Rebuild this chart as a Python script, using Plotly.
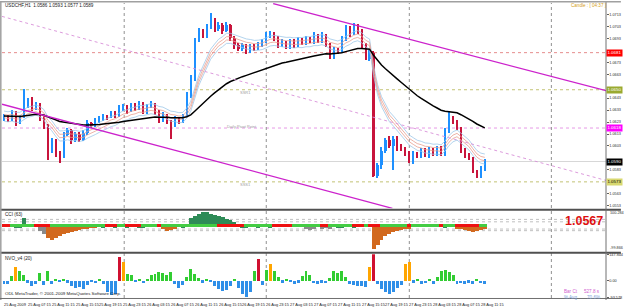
import plotly.graph_objects as go
import numpy as np

# ---------------- data ----------------
closes = [1.0628,1.0625,1.0630,1.0623,1.0627,
          1.0637,1.0641,1.0634,1.0638,1.0626,
          1.0620,1.0599,1.0607,1.0597,1.0595,
          1.0612,1.0616,1.0608,1.0613,1.0608,
          1.0614,1.0622,1.0620,1.0624,1.0626,
          1.0628,1.0627,1.0630,1.0628,1.0634,
          1.0636,1.0632,1.0637,1.0634,1.0638,
          1.0632,1.0636,1.0638,1.0631,1.0625,
          1.0629,1.0623,1.0621,1.0626,1.0623,
          1.0628,1.0645,1.0659,1.0691,1.0699,
          1.0695,1.0703,1.0708,1.0701,1.0704,
          1.0699,1.0704,1.0693,1.0687,1.0684,
          1.0687,1.0683,1.0686,1.0684,1.0688,
          1.0690,1.0695,1.0697,1.0693,1.0688,
          1.0690,1.0686,1.0690,1.0687,1.0691,
          1.0689,1.0693,1.0690,1.0695,1.0691,
          1.0695,1.0687,1.0678,1.0684,1.0683,
          1.0693,1.0701,1.0698,1.0703,1.0699,
          1.0687,1.0676,1.0681,1.0578,1.0587,
          1.0599,1.0608,1.0603,1.0609,1.0603,
          1.0601,1.0597,1.0591,1.0597,1.0595,
          1.0599,1.0596,1.0600,1.0597,1.0601,
          1.0597,1.0616,1.0626,1.0623,1.0618,
          1.0599,1.0595,1.0593,1.0581,1.0578,
          1.0584,1.0589]
first_open = 1.0626
wick_up_pips = [2,1,3,2,2, 14,2,3,2,1, 2,1,3,2,2, 3,2,1,2,2,
                2,3,1,2,2, 2,1,2,2,3, 2,1,2,2,3, 2,2,3,1,2,
                2,1,2,2,1, 2,3,3,2,3, 2,2,6,2,3, 2,3,1,2,2,
                2,1,2,2,2, 2,3,2,1,2, 2,1,2,2,3, 2,2,1,3,2,
                3,2,2,2,1, 2,3,2,3,2, 2,2,2,1,2, 3,2,3,2,2,
                2,1,2,2,1, 2,2,2,1,2, 2,2,6,2,2, 1,2,2,1,2,
                2,3]
wick_dn_pips = [2,2,1,3,2, 1,2,2,1,2, 3,8,2,3,6, 2,1,3,2,2,
                1,2,2,1,2, 2,2,1,2,1, 2,2,1,2,1, 2,2,1,2,3,
                2,2,12,2,2, 1,1,2,2,1, 2,2,2,3,2, 2,1,2,3,2,
                2,3,2,2,1, 2,1,2,2,3, 2,2,2,2,1, 2,2,1,2,2,
                2,1,2,2,3, 2,2,4,2,2, 2,1,2,1,2, 3,2,2,20,4,
                2,2,2,3,2, 2,2,3,2,2, 2,2,2,2,2, 2,2,2,1,2,
                2,2]

cci_vals = [0,0,0,4,7, 57,22,19,15,-25,
            -43,-70,-81,-65,-58, -45,-35,-28,-22,-15,
            -12,-7,-4,-3,0, 2,0,0,3,0,
            0,2,0,0,3, 2,0,0,0,0,
            -7,-22,-17,-7,0, 9,20,57,72,80,
            94,91,83,75,68, 60,52,42,30,20,
            9,3,0,0,2, 0,0,3,0,0,
            0,0,0,0,0, 0,-12,-17,-7,0,
            -9,-4,-6,0,3, 4,0,0,2,0,
            0,0,0,-136,-110, -80,-58,-44,-32,-23,
            -17,-12,-7,0,0, 0,0,0,0,0,
            0,2,0,0,-6, -14,-20,-26,-31,-25,
            -15,-7]
cci_gray = [9,10,76,77,78,80,81,82]
cci_state = list("RRGGGGGGRRRRGGGGGGGGGGGGGGRRRGGRRRRGGGGRGGGGGGGGGGGGGGRRRRRRRGGGGGGGRRRRR"
                 "GGGGGGGRRGGGGGGRRRGRRRGGGGGGGRGGGGGGGRGGGRRRRRRGG")
cci_levels = [50, 35, -10, -20]

nvo_vals = [-15,-20,25,77,55, 35,-10,-28,-20,45,
            -25,55,-15,10,-8, 12,-10,-30,-40,-35,
            -44,-25,-8,-12,8, -15,-60,-80,-70,132,
            105,38,30,-8,10, -12,8,30,40,50,
            45,35,50,-20,-40, -25,20,65,40,15,
            -10,8,-5,-30,-45, -55,-50,-30,8,-40,
            -70,-88,-60,55,120, -25,60,93,55,20,
            -10,12,-8,-15,-10, 25,55,30,-12,-15,
            -10,-12,15,55,45, 55,20,-15,-25,-30,
            -28,-35,75,148,-20, -45,-60,-70,-60,-40,
            -25,93,105,-10,12, -15,-12,10,-15,20,
            55,60,50,30,-15, -12,-18,-10,-15,12,
            -12,-15]

date_labels = ["25 Aug 2009", "25 Aug 07:15", "25 Aug 11:15", "25 Aug 15:15", "25 Aug 19:15",
               "25 Aug 23:15", "26 Aug 03:15", "26 Aug 07:15", "26 Aug 11:15", "26 Aug 15:15",
               "26 Aug 19:15", "26 Aug 23:15", "27 Aug 03:15", "27 Aug 07:15", "27 Aug 11:15",
               "27 Aug 15:15", "27 Aug 19:15", "27 Aug 23:15", "28 Aug 03:15", "28 Aug 07:15",
               "28 Aug 11:15"]
date_label_bars = [k * 6 for k in range(21)]

price_ticks_all = [round(1.0713 - 0.0010 * k, 4) for k in range(17)]
level_prices = [1.0681, 1.0650, 1.0618, 1.0590, 1.0573]
level_colors = ["#E07070", "#B4B450", "#E080E0", "#CCCCCC", "#B4B450"]
level_dash = ["dot", "dot", "dot", "solid", "dot"]
level_box = ["#FF0000", "#9AAA30", "#FF00FF", "#000000", "#D8D870"]
level_box_font = ["white", "white", "white", "white", "black"]

upper_chan = ([67.75, 151.5], [1.0722, 1.06492])
mid_chan = ([-0.5, 151.5], [1.07113, 1.05742])
lower_chan = ([-0.5, 97.75], [1.06379, 1.05509])
vgrid_bars = [30.25, 66, 102, 137.75]

n = len(closes)
assert len(wick_up_pips) == n and len(wick_dn_pips) == n
assert len(cci_vals) == n and len(nvo_vals) == n and len(cci_state) == n

idx = np.arange(n)
c = np.array(closes)
o = np.array([first_open] + closes[:-1])
hi = np.maximum(o, c) + np.array(wick_up_pips) * 0.0001
lo = np.minimum(o, c) - np.array(wick_dn_pips) * 0.0001

def ema(v, p, seed):
    a = 2.0 / (p + 1)
    e = seed
    out = []
    for x in v:
        e = e + a * (x - e)
        out.append(e)
    return np.array(out)

ma_slow = ema(c, 40, 1.0628)
ma_fast = ema(c, 9, 1.0628)

BULL = "#1E90FF"
BEAR = "#C8143C"
cols = [BULL if cc >= oo else BEAR for oo, cc in zip(o, c)]

fig = go.Figure()

for off, col in [(0.00042, "#9EC8E8"), (0.00014, "#E8A090"), (-0.00014, "#E8A090"), (-0.00042, "#9EC8E8")]:
    fig.add_trace(go.Scatter(x=idx, y=ma_fast + off, mode="lines", line=dict(color=col, width=0.8),
                             hoverinfo="skip", showlegend=False))

fig.add_trace(go.Bar(x=idx, base=lo, y=hi - lo, width=0.3, marker=dict(color=cols, line_width=0),
                     showlegend=False))
fig.add_trace(go.Bar(x=idx, base=np.minimum(o, c), y=np.maximum(np.abs(c - o), 0.00004), width=0.55,
                     marker=dict(color=cols, line_width=0), showlegend=False))

fig.add_trace(go.Scatter(x=idx, y=ma_slow, mode="lines", line=dict(color="black", width=1.5),
                         showlegend=False))

fig.add_trace(go.Scatter(x=upper_chan[0], y=upper_chan[1], mode="lines",
                         line=dict(color="#CC22CC", width=1.3), showlegend=False))
fig.add_trace(go.Scatter(x=lower_chan[0], y=lower_chan[1], mode="lines",
                         line=dict(color="#CC22CC", width=1.3), showlegend=False))
fig.add_trace(go.Scatter(x=mid_chan[0], y=mid_chan[1], mode="lines",
                         line=dict(color="#D890D8", width=0.9, dash="dot"), showlegend=False))

# CCI panel
cci_cols = []
for i, v in enumerate(cci_vals):
    if i in cci_gray:
        cci_cols.append("#8A8A8A")
    elif v >= 0:
        cci_cols.append("#2E8B57")
    else:
        cci_cols.append("#D2691E")
fig.add_trace(go.Bar(x=idx, y=cci_vals, width=1.0, marker=dict(color=cci_cols, line_width=0),
                     yaxis="y2", showlegend=False))
strip_cols = ["#EE1111" if s == "R" else "#44CC44" for s in cci_state]
fig.add_trace(go.Bar(x=idx, base=[2] * n, y=[16] * n, width=1.0, marker=dict(color=strip_cols, line_width=0),
                     yaxis="y2", showlegend=False))

# NVO panel
nvo_cols = []
for v in nvo_vals:
    if v >= 110:
        nvo_cols.append("#D01030")
    elif v >= 70:
        nvo_cols.append("#FFA500")
    elif v > 0:
        nvo_cols.append("#32CD32")
    else:
        nvo_cols.append("#2F8FE8")
fig.add_trace(go.Bar(x=idx, y=nvo_vals, width=0.75, marker=dict(color=nvo_cols, line_width=0),
                     yaxis="y3", showlegend=False))

FONT = "Liberation Sans"
W, H = 625, 308
L, R, T, B = 2, 15, 2, 10
pw, ph = W - L - R, H - T - B

def px_x(x):
    return (x - L) / pw

def px_y(y):
    return (H - B - y) / ph

shapes = []
annotations = []

for p, col, d in zip(level_prices, level_colors, level_dash):
    shapes.append(dict(type="line", xref="paper", yref="y", x0=0, x1=1, y0=p, y1=p,
                       line=dict(color=col, width=0.8, dash=d), layer="below"))
for vb in vgrid_bars:
    shapes.append(dict(type="line", xref="x", yref="paper", x0=vb, x1=vb, y0=0, y1=1,
                       line=dict(color="#909090", width=1, dash="dot"), layer="below"))
for lv in cci_levels:
    shapes.append(dict(type="line", xref="paper", yref="y2", x0=0, x1=1, y0=lv, y1=lv,
                       line=dict(color="#B0B0B0", width=0.8, dash="dot"), layer="below"))

for py in [209.5, 252.5]:
    shapes.append(dict(type="line", xref="paper", yref="paper", x0=px_x(0), x1=px_x(W), y0=px_y(py), y1=px_y(py),
                       line=dict(color="#505050", width=2)))
shapes.append(dict(type="line", xref="paper", yref="paper", x0=1, x1=1, y0=px_y(300), y1=px_y(0),
                   line=dict(color="#707070", width=1)))
shapes.append(dict(type="line", xref="paper", yref="paper", x0=px_x(0), x1=px_x(W), y0=px_y(0.8), y1=px_y(0.8),
                   line=dict(color="#A0A0A0", width=1.5)))
shapes.append(dict(type="line", xref="paper", yref="paper", x0=px_x(0.8), x1=px_x(0.8), y0=px_y(300), y1=px_y(0),
                   line=dict(color="#A0A0A0", width=1.5)))
shapes.append(dict(type="line", xref="paper", yref="paper", x0=px_x(0), x1=px_x(W), y0=px_y(298.5), y1=px_y(298.5),
                   line=dict(color="#707070", width=1)))

for p, bc, fc in zip(level_prices, level_box, level_box_font):
    annotations.append(dict(xref="paper", yref="y", x=1, y=p, xanchor="left", yanchor="middle",
                            text=f"{p:.4f}", showarrow=False, bgcolor=bc, borderpad=0.4,
                            font=dict(family=FONT, size=4.4, color=fc), xshift=0))

price_ticks = [t for t in price_ticks_all if min(abs(t - lp) for lp in level_prices) > 0.00045]

def txt(x, y, s, size=4.6, color="#202020", xanchor="left", yanchor="middle", bold=False):
    annotations.append(dict(xref="paper", yref="paper", x=px_x(x), y=px_y(y), text=f"<b>{s}</b>" if bold else s,
                            showarrow=False, xanchor=xanchor, yanchor=yanchor,
                            font=dict(family=FONT, size=size, color=color)))

txt(3, 5, "USDCHF,H1  1.0586 1.0593 1.0577 1.0589")
txt(573, 5, "Candle : [ 04:37 ]", color="#D4A020")
txt(3, 214, "CCI (63)")
txt(3, 258, "NVO_v4 (20)")
txt(3, 293, "ODL MetaTrader, © 2001-2009 MetaQuotes Software Corp.", size=4.4)
txt(609, 221, "1.0567", size=12.5, color="#DD1010", xanchor="right", bold=True)
txt(566, 291, "Bar Ct", color="#D060D0")
txt(606, 291, "527.8 s", color="#D060D0", xanchor="right")
txt(566, 297, "% Avg", color="#80A0D8")
txt(606, 297, "70.6%", color="#80A0D8", xanchor="right")
txt(240, 92, "SSR1", color="#A0A0A0", size=4)
txt(226, 126, "Daily Pivot Point", color="#A0A0A0", size=4)
txt(240, 184, "SSS1", color="#A0A0A0", size=4)
txt(612, 213, "100.284", size=3.8, color="#303030")
txt(612, 248, "-99.866", size=3.8, color="#303030")

for lbl, b in zip(date_labels, date_label_bars):
    annotations.append(dict(xref="x", yref="paper", x=b - 0.5, y=px_y(300), text=lbl, showarrow=False,
                            xanchor="left", yanchor="top", font=dict(family=FONT, size=3.9, color="#202020")))

fig.update_layout(
    width=W, height=H, margin=dict(l=L, r=R, t=T, b=B),
    paper_bgcolor="white", plot_bgcolor="white",
    barmode="overlay", bargap=0, showlegend=False,
    xaxis=dict(range=[-0.5, -0.5 + pw / 4.0], showticklabels=False, showgrid=False, zeroline=False, fixedrange=True),
    yaxis=dict(domain=[px_y(208), 1], range=[1.05509, 1.07225], side="right",
               tickvals=price_ticks, ticktext=[f"{v:.4f}" for v in price_ticks],
               tickfont=dict(family=FONT, size=3.8, color="#303030"), ticks="outside", ticklen=1.5,
               tickcolor="#606060", showgrid=False, zeroline=False),
    yaxis2=dict(domain=[px_y(251), px_y(211)], range=[-147.3, 100.284], side="right",
                showticklabels=False, showgrid=False, zeroline=False),
    yaxis3=dict(domain=[0, px_y(254)], range=[-93.578, 147.844], side="right",
                tickvals=[145.0, 0, -90.0], ticktext=["147.844", "0.00", "-93.578"],
                tickfont=dict(family=FONT, size=3.8, color="#303030"), ticks="outside", ticklen=1.5,
                tickcolor="#606060", showgrid=False, zeroline=False),
    shapes=shapes, annotations=annotations,
)

fig.write_html("out.html")
